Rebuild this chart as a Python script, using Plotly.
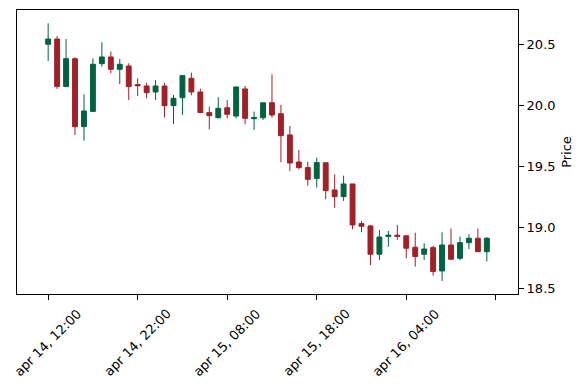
import plotly.graph_objects as go

# hourly candles starting apr 14, 12:00
opens = [20.50, 20.543, 20.153, 20.382, 19.825, 19.95, 20.341, 20.396, 20.295, 20.322,
         20.17, 20.158, 20.109, 20.158, 19.997, 20.062, 20.221, 20.109, 19.94, 19.898,
         19.98, 19.912, 20.134, 19.89, 19.898, 20.021, 19.931, 19.757, 19.535, 19.489,
         19.40, 19.529, 19.306, 19.251, 19.355, 19.03, 19.011, 18.779, 18.925, 18.935,
         18.93, 18.836, 18.779, 18.833, 18.642, 18.855, 18.746, 18.874, 18.91, 18.80]
highs = [20.672, 20.568, 20.543, 20.393, 20.09, 20.385, 20.516, 20.44, 20.38, 20.344,
         20.221, 20.185, 20.207, 20.185, 20.084, 20.248, 20.267, 20.136, 19.989, 20.066,
         20.043, 20.153, 20.158, 19.948, 20.021, 20.254, 20.003, 19.83, 19.634, 19.538,
         19.57, 19.529, 19.434, 19.423, 19.355, 19.052, 19.019, 18.978, 18.97, 19.019,
         18.93, 18.956, 18.869, 18.85, 18.959, 18.99, 18.923, 18.943, 18.99, 18.92]
lows = [20.363, 20.134, 20.15, 19.757, 19.71, 19.948, 20.316, 20.262, 20.172, 20.043,
        20.076, 20.057, 20.043, 19.90, 19.847, 19.92, 20.082, 19.935, 19.803, 19.893,
        19.893, 19.893, 19.844, 19.798, 19.879, 19.898, 19.533, 19.461, 19.475, 19.341,
        19.325, 19.23, 19.16, 19.216, 18.984, 18.959, 18.69, 18.732, 18.84, 18.896,
        18.746, 18.678, 18.732, 18.604, 18.56, 18.73, 18.73, 18.822, 18.80, 18.72]
closes = [20.543, 20.153, 20.382, 19.825, 19.953, 20.336, 20.396, 20.295, 20.336, 20.153,
          20.16, 20.103, 20.158, 19.997, 20.057, 20.243, 20.109, 19.94, 19.915, 19.975,
          19.926, 20.15, 19.893, 19.90, 20.02, 19.92, 19.751, 19.527, 19.489, 19.393,
          19.53, 19.30, 19.251, 19.355, 19.019, 19.008, 18.779, 18.92, 18.935, 18.925,
          18.828, 18.76, 18.822, 18.637, 18.855, 18.738, 18.874, 18.91, 18.80, 18.91]

tick_positions = [0, 10, 20, 30, 40, 50]
tick_labels = ["apr 14, 12:00", "apr 14, 22:00", "apr 15, 08:00",
               "apr 15, 18:00", "apr 16, 04:00", ""]

y_ticks = [18.5, 19.0, 19.5, 20.0, 20.5]
y_tick_labels = ["18.5", "19.0", "19.5", "20.0", "20.5"]

x_idx = list(range(len(opens)))

UP = "#006340"
DOWN = "#a02128"

fig = go.Figure(go.Candlestick(
    x=x_idx, open=opens, high=highs, low=lows, close=closes,
    increasing=dict(line=dict(color=UP, width=1), fillcolor=UP),
    decreasing=dict(line=dict(color=DOWN, width=1), fillcolor=DOWN),
    whiskerwidth=0,
))

font = dict(family="DejaVu Sans", size=13, color="black")

# centred, 45-degree rotated x tick labels (matplotlib style)
for pos, lab in zip(tick_positions, tick_labels):
    if not lab:
        continue
    fig.add_annotation(
        x=pos, y=0, xref="x", yref="paper",
        text=lab, textangle=-45, showarrow=False,
        xanchor="center", yanchor="top", yshift=-11,
        font=font, borderpad=0,
    )

fig.update_layout(
    width=587, height=390,
    margin=dict(l=17, r=69, t=10, b=96, autoexpand=False),
    paper_bgcolor="white", plot_bgcolor="white",
    showlegend=False,
    boxgap=0.22,
    font=font,
    xaxis=dict(
        range=[-3.48, 52.48],
        tickmode="array", tickvals=tick_positions, ticktext=tick_labels,
        showticklabels=False,
        ticks="outside", ticklen=5, tickcolor="black",
        showline=True, linecolor="black", linewidth=1, mirror=True,
        showgrid=False, zeroline=False, automargin=False,
        rangeslider=dict(visible=False),
    ),
    yaxis=dict(
        side="right",
        range=[18.453, 20.781],
        tickmode="array", tickvals=y_ticks, ticktext=y_tick_labels,
        ticks="outside", ticklen=5, tickcolor="black",
        showline=True, linecolor="black", linewidth=1, mirror=True,
        showgrid=False, zeroline=False, automargin=False,
        title=dict(text="Price", font=font, standoff=7),
        tickfont=font,
    ),
)

fig.write_html(
    "out.html",
    config={"displayModeBar": False},
    post_script="document.body.style.margin='0';document.body.style.overflow='hidden';",
)
